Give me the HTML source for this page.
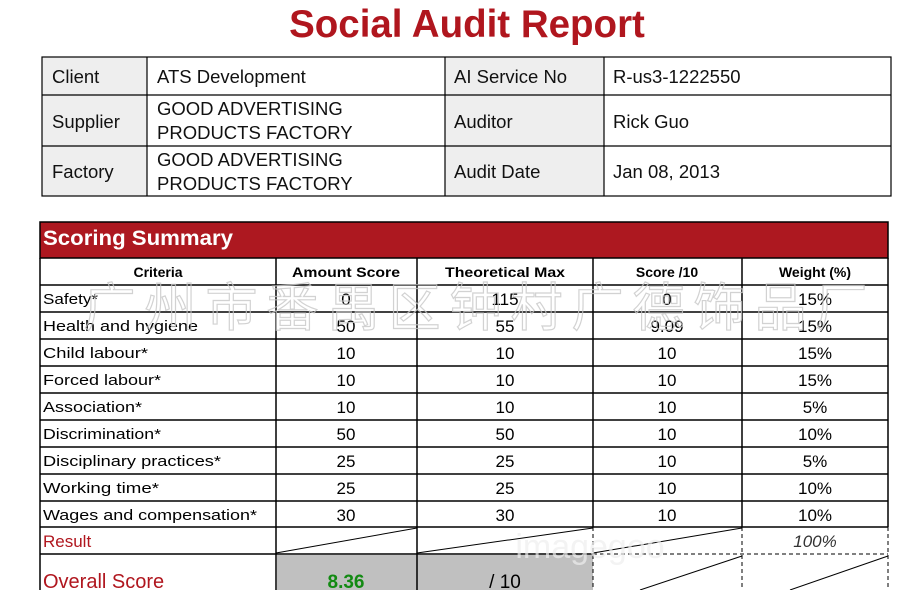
<!DOCTYPE html>
<html><head><meta charset="utf-8"><style>
body{margin:0;background:#fff;}
svg{display:block;font-family:"Liberation Sans","DejaVu Sans",sans-serif;}
</style></head><body>
<svg width="914" height="590" xmlns="http://www.w3.org/2000/svg">
<rect width="914" height="590" fill="#fff"/>
<text x="467" y="37" text-anchor="middle" font-size="38.5" font-weight="bold" fill="#b0161e">Social Audit Report</text>
<g fill="#eeeeee"><rect x="42" y="57" width="105" height="139"/><rect x="445" y="57" width="159" height="139"/></g>
<g stroke="#000" stroke-width="1.2" fill="none">
<rect x="42" y="57" width="849" height="139"/>
<line x1="42" y1="95" x2="891" y2="95"/><line x1="42" y1="146" x2="891" y2="146"/>
<line x1="147" y1="57" x2="147" y2="196"/><line x1="445" y1="57" x2="445" y2="196"/><line x1="604" y1="57" x2="604" y2="196"/>
</g>
<g font-size="18.5" fill="#111">
<text x="52" y="83">Client</text><text x="157" y="83">ATS Development</text><text x="454" y="83">AI Service No</text><text x="613" y="83">R-us3-1222550</text>
<text x="52" y="128">Supplier</text><text x="157" y="115">GOOD ADVERTISING</text><text x="157" y="139">PRODUCTS FACTORY</text><text x="454" y="128">Auditor</text><text x="613" y="128">Rick Guo</text>
<text x="52" y="178">Factory</text><text x="157" y="166">GOOD ADVERTISING</text><text x="157" y="190">PRODUCTS FACTORY</text><text x="454" y="178">Audit Date</text><text x="613" y="178">Jan 08, 2013</text>
</g>
<rect x="40" y="222" width="848" height="36" fill="#ad1820" stroke="#000" stroke-width="1.5"/>
<text x="43" y="245" font-size="21" font-weight="bold" fill="#fff" textLength="190" lengthAdjust="spacingAndGlyphs">Scoring Summary</text>
<rect x="277" y="555" width="316" height="35" fill="#c0c0c0"/>
<g stroke="#000" stroke-width="1.5" fill="none">
<line x1="40" y1="258" x2="40" y2="590"/><line x1="888" y1="258" x2="888" y2="527"/>
<line x1="276" y1="258" x2="276" y2="590"/><line x1="417" y1="258" x2="417" y2="590"/>
<line x1="593" y1="258" x2="593" y2="527"/><line x1="742" y1="258" x2="742" y2="527"/>
<line x1="40" y1="285" x2="888" y2="285"/><line x1="40" y1="312" x2="888" y2="312"/><line x1="40" y1="339" x2="888" y2="339"/>
<line x1="40" y1="366" x2="888" y2="366"/><line x1="40" y1="393" x2="888" y2="393"/><line x1="40" y1="420" x2="888" y2="420"/>
<line x1="40" y1="447" x2="888" y2="447"/><line x1="40" y1="474" x2="888" y2="474"/><line x1="40" y1="501" x2="888" y2="501"/>
<line x1="40" y1="527" x2="888" y2="527"/><line x1="40" y1="554" x2="593" y2="554"/>
</g>
<g stroke="#000" stroke-width="1" fill="none">
<line x1="276" y1="553" x2="417" y2="528"/><line x1="417" y1="553" x2="593" y2="528"/><line x1="593" y1="553" x2="742" y2="528"/>
<line x1="593" y1="527" x2="593" y2="590" stroke-dasharray="4,3"/><line x1="742" y1="527" x2="742" y2="590" stroke-dasharray="4,3"/>
<line x1="593" y1="554" x2="888" y2="554" stroke-dasharray="4,3"/><line x1="888" y1="527" x2="888" y2="590" stroke-dasharray="4,3"/>
<line x1="640" y1="590" x2="742" y2="556"/><line x1="790" y1="590" x2="888" y2="556"/>
</g>
<g font-size="14" font-weight="bold" text-anchor="middle" fill="#000" lengthAdjust="spacingAndGlyphs">
<text x="158" y="277">Criteria</text><text x="346" y="277" textLength="108" lengthAdjust="spacingAndGlyphs">Amount Score</text><text x="505" y="277" textLength="120" lengthAdjust="spacingAndGlyphs">Theoretical Max</text><text x="667" y="277">Score /10</text><text x="815" y="277">Weight (%)</text>
</g>
<g font-size="15" fill="#000">
<text x="43" y="304" textLength="55" lengthAdjust="spacingAndGlyphs">Safety*</text><text x="43" y="331" textLength="155" lengthAdjust="spacingAndGlyphs">Health and hygiene</text><text x="43" y="358" textLength="105" lengthAdjust="spacingAndGlyphs">Child labour*</text><text x="43" y="385" textLength="118" lengthAdjust="spacingAndGlyphs">Forced labour*</text><text x="43" y="412" textLength="99" lengthAdjust="spacingAndGlyphs">Association*</text><text x="43" y="439" textLength="118" lengthAdjust="spacingAndGlyphs">Discrimination*</text><text x="43" y="466" textLength="178" lengthAdjust="spacingAndGlyphs">Disciplinary practices*</text><text x="43" y="493" textLength="116" lengthAdjust="spacingAndGlyphs">Working time*</text><text x="43" y="520" textLength="214" lengthAdjust="spacingAndGlyphs">Wages and compensation*</text>
</g>
<g font-size="17" text-anchor="middle" fill="#000">
<text x="346" y="305">0</text><text x="505" y="305">115</text><text x="667" y="305">0</text><text x="815" y="305">15%</text>
<text x="346" y="332">50</text><text x="505" y="332">55</text><text x="667" y="332">9.09</text><text x="815" y="332">15%</text>
<text x="346" y="359">10</text><text x="505" y="359">10</text><text x="667" y="359">10</text><text x="815" y="359">15%</text>
<text x="346" y="386">10</text><text x="505" y="386">10</text><text x="667" y="386">10</text><text x="815" y="386">15%</text>
<text x="346" y="413">10</text><text x="505" y="413">10</text><text x="667" y="413">10</text><text x="815" y="413">5%</text>
<text x="346" y="440">50</text><text x="505" y="440">50</text><text x="667" y="440">10</text><text x="815" y="440">10%</text>
<text x="346" y="467">25</text><text x="505" y="467">25</text><text x="667" y="467">10</text><text x="815" y="467">5%</text>
<text x="346" y="494">25</text><text x="505" y="494">25</text><text x="667" y="494">10</text><text x="815" y="494">10%</text>
<text x="346" y="521">30</text><text x="505" y="521">30</text><text x="667" y="521">10</text><text x="815" y="521">10%</text>
<text x="815" y="547" font-style="italic" fill="#333">100%</text>
</g>
<text x="43" y="547" font-size="17" fill="#b0161e">Result</text>
<text x="43" y="588" font-size="20" fill="#b0161e">Overall Score</text>
<text x="346" y="588" font-size="19" font-weight="bold" text-anchor="middle" fill="#128a12">8.36</text>
<text x="505" y="588" font-size="19" text-anchor="middle" fill="#000">/ 10</text>
<text x="480" y="326" font-size="52" text-anchor="middle" fill="none" stroke="#c8c8c8" stroke-width="1.2" font-family="'Noto Sans CJK SC',sans-serif" letter-spacing="9" opacity="0.8">广州市番禺区钟村广德饰品厂</text>
<text x="590" y="558" font-size="34" text-anchor="middle" fill="#eee" opacity="0.7">imagegoo</text>
</svg>
</body></html>
